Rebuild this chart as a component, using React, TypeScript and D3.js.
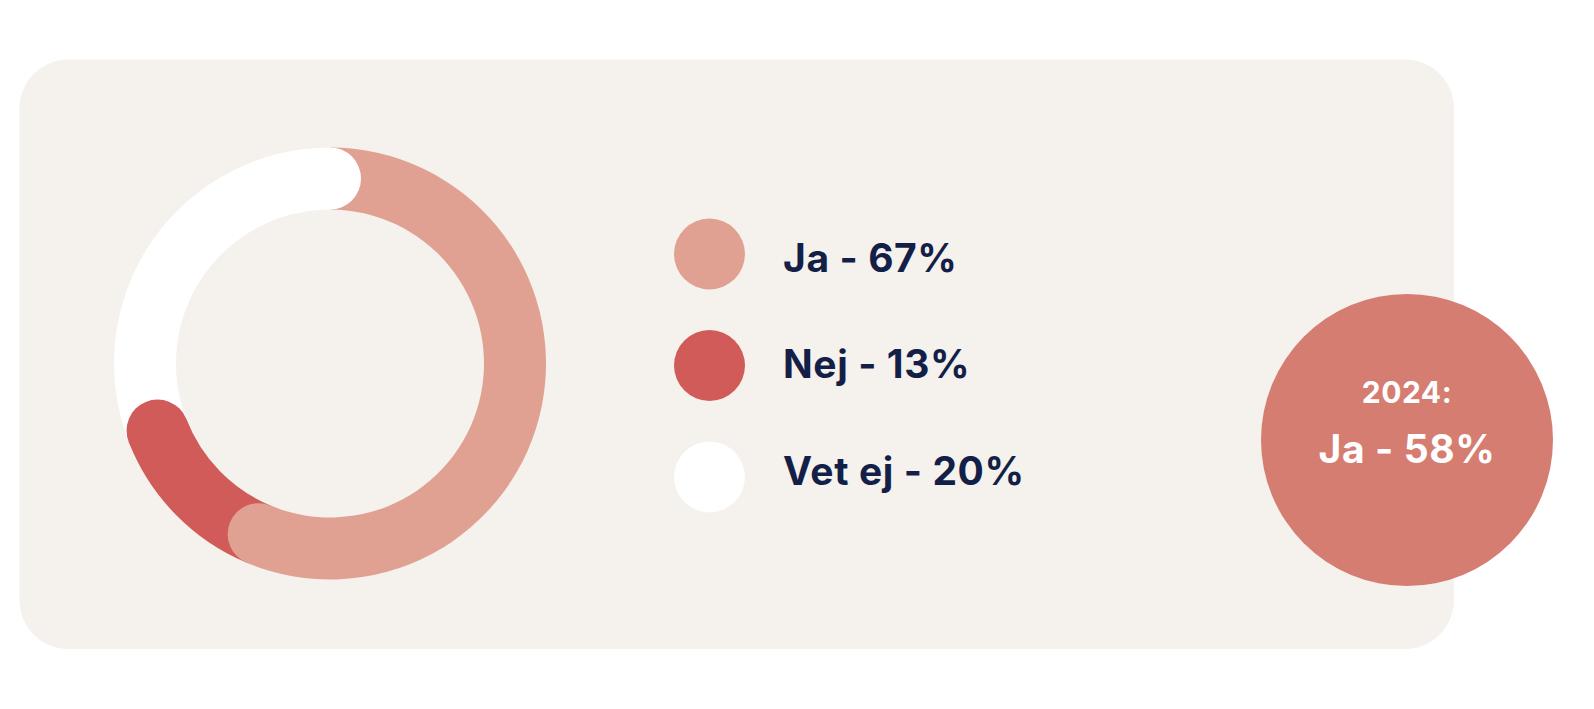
import { useEffect, useRef } from 'react';
import * as d3 from 'd3';

// answers and the percentages printed in the legend
const categories = ['Ja', 'Nej', 'Vet ej'];
const labelPercents = [67, 13, 20];
// share of the ring each answer occupies, as drawn in the picture
const ringShares = [56.3, 12.8, 30.9];
const sliceColors = ['#E0A193', '#D05B58', '#FFFFFF'];

const previousYear = '2024';
const previousAnswer = 'Ja';
const previousPercent = 58;

const WIDTH = 1594;
const HEIGHT = 709;
const FONT = 'Inter, "Noto Sans", sans-serif';
const NAVY = '#141F48';

export default function App() {
  const ref = useRef<SVGSVGElement>(null);

  useEffect(() => {
    const svg = d3.select(ref.current);
    svg.selectAll('*').remove();

    // card
    svg
      .append('rect')
      .attr('x', 19.5)
      .attr('y', 59.5)
      .attr('width', 1434.5)
      .attr('height', 589.5)
      .attr('rx', 49)
      .attr('fill', '#F5F1EC');

    // donut
    const cx = 330;
    const cy = 363.5;
    const inner = 154;
    const outer = 216;
    const mid = (inner + outer) / 2;
    const capR = (outer - inner) / 2;

    const pie = d3
      .pie<number>()
      .sort(null)
      .value((d) => d)
      .startAngle(0)
      .endAngle(Math.PI * 2);
    const slices = pie(ringShares);
    const arc = d3.arc<d3.PieArcDatum<number>>().innerRadius(inner).outerRadius(outer);

    const ring = svg.append('g').attr('transform', `translate(${cx},${cy})`);
    ring
      .selectAll('path')
      .data(slices)
      .enter()
      .append('path')
      .attr('d', (d) => arc(d)!)
      .attr('fill', (_, i) => sliceColors[i]);

    // rounded end of every slice, laid over the next one
    ring
      .selectAll('circle')
      .data(slices)
      .enter()
      .append('circle')
      .attr('cx', (d) => mid * Math.sin(d.endAngle))
      .attr('cy', (d) => -mid * Math.cos(d.endAngle))
      .attr('r', capR)
      .attr('fill', (_, i) => sliceColors[i]);

    // legend
    const legend = svg.append('g');
    const rows = legend
      .selectAll('g')
      .data(categories)
      .enter()
      .append('g');
    rows
      .append('circle')
      .attr('cx', 709.5)
      .attr('cy', (_, i) => 254 + i * 111.5)
      .attr('r', 35.5)
      .attr('fill', (_, i) => sliceColors[i]);
    rows
      .append('text')
      .attr('x', 783)
      .attr('y', (_, i) => 271.5 + i * 106.5)
      .attr('font-family', FONT)
      .attr('font-weight', 700)
      .attr('font-size', 39)
      .attr('letter-spacing', 0.6)
      .attr('fill', NAVY)
      .text((d, i) => `${d} - ${labelPercents[i]}%`);

    // previous year badge
    const badge = svg.append('g').attr('transform', 'translate(1407,440)');
    badge.append('circle').attr('r', 146).attr('fill', '#D67D72');
    badge
      .append('text')
      .attr('y', -37)
      .attr('text-anchor', 'middle')
      .attr('font-family', FONT)
      .attr('font-weight', 700)
      .attr('font-size', 30)
      .attr('letter-spacing', 0.5)
      .attr('fill', '#FFFFFF')
      .text(`${previousYear}:`);
    badge
      .append('text')
      .attr('y', 23)
      .attr('text-anchor', 'middle')
      .attr('font-family', FONT)
      .attr('font-weight', 700)
      .attr('font-size', 39)
      .attr('letter-spacing', 0.6)
      .attr('fill', '#FFFFFF')
      .text(`${previousAnswer} - ${previousPercent}%`);
  }, []);

  return (
    <svg
      ref={ref}
      width={WIDTH}
      height={HEIGHT}
      style={{ position: 'fixed', left: 0, top: 0, background: '#FFFFFF' }}
    />
  );
}
